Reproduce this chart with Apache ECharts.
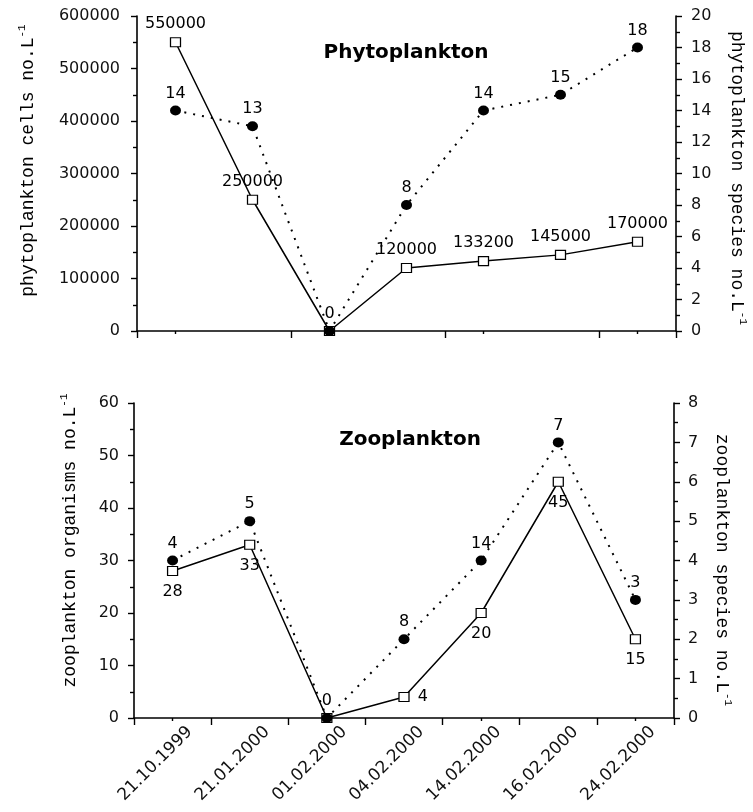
<!DOCTYPE html>
<html>
<head>
<meta charset="utf-8">
<script src="https://cdn.jsdelivr.net/npm/echarts@6/dist/echarts.min.js"></script>
<style>
  html, body { margin: 0; padding: 0; background: #fff; }
  #chart { width: 753px; height: 812px; }
</style>
</head>
<body>
<div id="chart"></div>
<script>
// Sampling dates shared by both panels
const dates = ['21.10.1999', '21.01.2000', '01.02.2000', '04.02.2000', '14.02.2000', '16.02.2000', '24.02.2000'];

// Phytoplankton: cell density (left axis) and species count (right axis)
const phytoCells = [550000, 250000, 0, 120000, 133200, 145000, 170000];
const phytoSpecies = [14, 13, 0, 8, 14, 15, 18];

// Zooplankton: organism density (left axis) and species count (right axis)
const zooOrganisms = [28, 33, 0, 4, 20, 45, 15];
const zooSpecies = [4, 5, 0, 2, 4, 7, 3];
// Printed labels for the zooplankton species points
const zooSpeciesLabels = ['4', '5', '0', '8', '14', '7', '3'];

// Axis ranges
const phytoCellAxis = { min: 0, max: 600000, interval: 100000 };
const phytoSpeciesAxis = { min: 0, max: 20, interval: 2 };
const zooOrganismAxis = { min: 0, max: 60, interval: 10 };
const zooSpeciesAxis = { min: 0, max: 8, interval: 1 };

// Label placement for the zooplankton organism points
const zooOrganismLabelPos = ['bottom', 'bottom', 'bottom', 'right', 'bottom', 'bottom', 'bottom'];

const NUM_FONT = 'DejaVu Sans';
const NAME_FONT = 'Liberation Mono';
const PLOT_HEIGHT = 315;

function valueAxis(grid, range, side, name, nameGap, namePad, labelMargin) {
  return {
    type: 'value',
    gridIndex: grid,
    position: side,
    min: range.min,
    max: range.max,
    interval: range.interval,
    name: name,
    nameLocation: 'middle',
    nameGap: nameGap,
    nameRotate: side === 'left' ? 90 : -90,
    nameTextStyle: {
      fontFamily: NAME_FONT,
      fontSize: 18,
      color: '#000',
      padding: namePad,
      rich: {
        a: { fontFamily: NAME_FONT, fontSize: 18, color: '#000', lineHeight: 22 },
        s: { fontFamily: NAME_FONT, fontSize: 11, color: '#000', verticalAlign: 'top', lineHeight: 11 }
      }
    },
    axisLine: { show: true, lineStyle: { color: '#000', width: 1.6 } },
    axisTick: { show: true, inside: false, length: 6, lineStyle: { color: '#000', width: 1.4 } },
    minorTick: { show: true, splitNumber: 2, length: 4, lineStyle: { color: '#000', width: 1.4 } },
    splitLine: { show: false },
    axisLabel: {
      show: true,
      margin: labelMargin,
      fontFamily: NUM_FONT,
      fontSize: 16,
      color: '#111',
      formatter: v => String(v)
    }
  };
}

function catAxis(grid, showLabels) {
  return {
    type: 'category',
    gridIndex: grid,
    position: 'bottom',
    data: dates,
    boundaryGap: true,
    axisLine: { show: true, lineStyle: { color: '#000', width: 1.6 } },
    axisTick: { show: true, length: 7, lineStyle: { color: '#000', width: 1.4 } },
    axisLabel: showLabels ? {
      show: true,
      interval: 0,
      rotate: 45,
      margin: -6,
      verticalAlign: 'top',
      lineHeight: 49,
      fontFamily: NUM_FONT,
      fontSize: 17,
      color: '#111'
    } : { show: false },
    splitLine: { show: false }
  };
}

// Companion category axis that only draws the short ticks under each point;
// it sits on the top slot and is shifted down onto the bottom edge of the plot
function centerTickAxis(grid) {
  return {
    type: 'category',
    gridIndex: grid,
    position: 'top',
    offset: -PLOT_HEIGHT,
    data: dates,
    boundaryGap: true,
    axisLine: { show: false },
    axisTick: { show: true, inside: true, alignWithLabel: true, length: 3, lineStyle: { color: '#000', width: 1.4 } },
    axisLabel: { show: false },
    splitLine: { show: false }
  };
}

const labelText = { fontFamily: NUM_FONT, fontSize: 16, color: '#000' };

const squareSymbol = {
  symbol: 'rect',
  symbolSize: [10, 9],
  itemStyle: { color: '#fff', borderColor: '#000', borderWidth: 1.2 },
  lineStyle: { color: '#000', width: 1.5, type: 'solid' }
};
const dotSymbol = {
  symbol: 'circle',
  symbolSize: [11, 10],
  itemStyle: { color: '#000' },
  lineStyle: { color: '#000', width: 2, type: [2, 7] }
};

// The shared zero point is labelled once, by the species series
function hideZeroLabel(values) {
  return values.map(v => v === 0 ? { value: v, label: { show: false } } : v);
}

const option = {
  backgroundColor: '#fff',
  animation: false,
  grid: [
    { left: 137, right: 77, top: 16, height: PLOT_HEIGHT, containLabel: false, outerBoundsMode: 'none' },
    { left: 134, right: 79, top: 403, height: PLOT_HEIGHT, containLabel: false, outerBoundsMode: 'none' }
  ],
  xAxis: [
    catAxis(0, false),
    centerTickAxis(0),
    catAxis(1, true),
    centerTickAxis(1)
  ],
  yAxis: [
    valueAxis(0, phytoCellAxis, 'left', '{a|phytoplankton cells no.L}{s|-1}', 98, [0, 0, 0, 26], 17),
    valueAxis(0, phytoSpeciesAxis, 'right', '{a|phytoplankton species no.L}{s|-1}', 50, [0, 0, 0, 9], 15),
    valueAxis(1, zooOrganismAxis, 'left', '{a|zooplankton organisms no.L}{s|-1}', 53, [0, 0, 0, 40], 15),
    valueAxis(1, zooSpeciesAxis, 'right', '{a|zooplankton species no.L}{s|-1}', 37, [0, 0, 0, 19], 14)
  ],
  series: [
    Object.assign({
      name: 'phytoplankton cells',
      type: 'line',
      xAxisIndex: 0,
      yAxisIndex: 0,
      data: hideZeroLabel(phytoCells),
      z: 2,
      label: Object.assign({ show: true, position: 'top', distance: 5, formatter: p => String(p.value) }, labelText)
    }, squareSymbol),
    Object.assign({
      name: 'phytoplankton species',
      type: 'line',
      xAxisIndex: 0,
      yAxisIndex: 1,
      data: phytoSpecies,
      z: 3,
      label: Object.assign({ show: true, position: 'top', distance: 4, formatter: p => String(p.value) }, labelText)
    }, dotSymbol),
    Object.assign({
      name: 'zooplankton organisms',
      type: 'line',
      xAxisIndex: 2,
      yAxisIndex: 2,
      data: zooOrganisms.map((v, i) => v === 0
        ? { value: v, label: { show: false } }
        : { value: v, label: { position: zooOrganismLabelPos[i] } }),
      z: 2,
      label: Object.assign({ show: true, position: 'bottom', distance: 8, formatter: p => String(p.value) }, labelText)
    }, squareSymbol),
    Object.assign({
      name: 'zooplankton species',
      type: 'line',
      xAxisIndex: 2,
      yAxisIndex: 3,
      data: zooSpecies,
      z: 3,
      label: Object.assign({ show: true, position: 'top', distance: 4, formatter: p => zooSpeciesLabels[p.dataIndex] }, labelText)
    }, dotSymbol)
  ],
  graphic: [
    {
      type: 'text',
      x: 406,
      y: 43,
      style: { text: 'Phytoplankton', font: 'bold 20px "DejaVu Sans"', fill: '#000', align: 'center', textAlign: 'center', verticalAlign: 'top', textVerticalAlign: 'top' }
    },
    {
      type: 'text',
      x: 410,
      y: 430,
      style: { text: 'Zooplankton', font: 'bold 20px "DejaVu Sans"', fill: '#000', align: 'center', textAlign: 'center', verticalAlign: 'top', textVerticalAlign: 'top' }
    }
  ]
};

const chart = echarts.init(document.getElementById('chart'), null, { renderer: 'canvas' });
chart.setOption(option);
</script>
</body>
</html>
